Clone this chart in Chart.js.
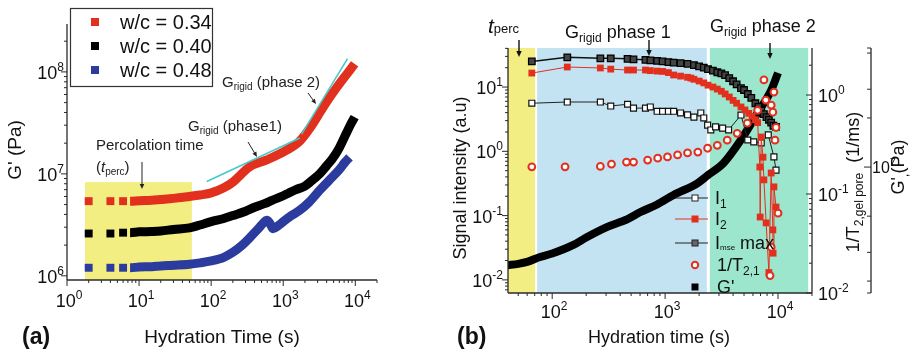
<!DOCTYPE html>
<html>
<head>
<meta charset="utf-8">
<script src="https://cdn.jsdelivr.net/npm/chart.js@4.4.0/dist/chart.umd.min.js"></script>
<style>
  html, body { margin: 0; padding: 0; background: #fff; }
  body { width: 912px; height: 352px; position: relative; overflow: hidden; }
  canvas { position: absolute; top: 0; }
  #chartA { left: 0; }
  #chartB { left: 440px; }
</style>
</head>
<body>
<canvas id="chartA" width="440" height="352"></canvas>
<canvas id="chartB" width="472" height="352"></canvas>
<script>
// ---------- Panel (a): storage modulus vs hydration time ----------
const timeW34 = [2, 4, 6, 7.5, 10, 15, 20, 30, 50, 70, 100, 150, 200, 340, 590, 1100, 1700, 2500, 3300, 4400, 5500, 7000, 8500, 9800];
const gW34    = [5.4e6, 5.4e6, 5.4e6, 5.4e6, 5.45e6, 5.5e6, 5.6e6, 5.75e6, 6.0e6, 6.2e6, 6.5e6, 7.3e6, 8.3e6, 1.17e7, 1.37e7, 1.7e7, 2.1e7, 3.0e7, 4.1e7, 5.6e7, 7.0e7, 8.8e7, 1.05e8, 1.2e8];
const timeW40 = [2, 4, 6, 7.5, 10, 15, 20, 30, 50, 70, 100, 150, 200, 300, 400, 550, 700, 1000, 1200, 1500, 2000, 2500, 3200, 4000, 4800, 6000, 7500, 8500, 9800];
const gW40    = [2.6e6, 2.6e6, 2.65e6, 2.65e6, 2.7e6, 2.72e6, 2.75e6, 2.85e6, 2.95e6, 3.15e6, 3.4e6, 3.65e6, 3.9e6, 4.3e6, 4.7e6, 5.1e6, 5.5e6, 6.1e6, 6.5e6, 7.0e6, 7.6e6, 8.6e6, 1.0e7, 1.2e7, 1.4e7, 1.8e7, 2.5e7, 3.0e7, 3.6e7];
const timeW48 = [2, 4, 6, 7.5, 10, 15, 20, 30, 50, 70, 100, 150, 200, 270, 350, 420, 470, 530, 590, 650, 720, 850, 1000, 1300, 1700, 2300, 3200, 4300, 6000, 7200, 8300];
const gW48    = [1.2e6, 1.2e6, 1.2e6, 1.2e6, 1.22e6, 1.23e6, 1.25e6, 1.27e6, 1.3e6, 1.34e6, 1.4e6, 1.52e6, 1.7e6, 2.0e6, 2.4e6, 2.75e6, 3.0e6, 3.3e6, 3.5e6, 3.3e6, 2.9e6, 3.1e6, 3.4e6, 3.9e6, 4.4e6, 5.3e6, 6.9e6, 8.6e6, 1.1e7, 1.3e7, 1.45e7];
const seriesLabelsA = ['w/c = 0.34', 'w/c = 0.40', 'w/c = 0.48'];
const decadesAX = [0, 1, 2, 3, 4];
const decadesAY = [6, 7, 8];
// percolation window and the two rigid-growth guide lines [t, G']
const percWindow = [1.78, 54, 8.3e6];
const rigidPhase1 = [[87, 8.4e6], [1700, 2.25e7]];
const rigidPhase2 = [[1800, 2.45e7], [7800, 1.35e8]];

// ---------- Panel (b): NMR signals and G' vs hydration time ----------
const timeI1 = [66, 136, 267, 330, 465, 525, 670, 740, 850, 950, 1070, 1190, 1370, 1580, 1800, 2070, 2200, 2380, 2540, 2800, 3230, 3650, 4700, 5400, 6100, 7100, 8200, 9200, 9600];
const sigI1  = [5.6, 5.85, 5.85, 5.07, 5.4, 4.7, 4.7, 4.9, 4.2, 4.2, 4.2, 4.2, 3.95, 3.7, 3.4, 3.95, 3.3, 2.56, 2.15, 2.4, 2.3, 2.15, 3.67, 1.5, 1.4, 1.35, 1.8, 0.82, 0.51];
const timeI2 = [66, 136, 267, 330, 465, 525, 670, 740, 850, 950, 1070, 1190, 1370, 1580, 1690, 1800, 2000, 2200, 2400, 2650, 2900, 3150, 3400, 3700, 4000, 4300, 4700, 5100, 5500, 5900, 6300, 6600, 6900, 6950, 7100, 7360, 7500, 7850, 8300, 8700, 9000, 9050, 9200, 9600];
const sigI2  = [16.5, 20.5, 19.8, 19.0, 18.4, 18.4, 18.4, 18.0, 17.7, 17.5, 16.8, 15.4, 14.8, 14.2, 13.8, 13.2, 12.4, 11.6, 10.7, 10.0, 9.3, 8.6, 7.8, 7.0, 6.2, 5.6, 4.9, 4.4, 3.9, 3.5, 3.1, 2.8, 0.57, 0.095, 1.67, 0.81, 0.36, 0.077, 0.013, 0.46, 0.06, 0.026, 0.28, 0.136];
const timeImse = [66, 136, 267, 330, 465, 525, 670, 740, 850, 950, 1070, 1190, 1370, 1580, 1800, 2000, 2200, 2400, 2650, 2900, 3150, 3400, 3700, 4000, 4300, 4700, 5000, 5400, 5800, 6300, 6700, 7100, 7500, 7900, 8300, 8700, 9100, 9600];
const sigImse  = [25, 29, 28, 28, 27.5, 27, 26.5, 26, 25.5, 25, 24.5, 24, 23.5, 23, 22, 21, 20, 19, 18, 17, 16.3, 15.3, 13.8, 12.3, 11, 9.6, 9.0, 7.8, 6.8, 5.6, 4.9, 4.3, 3.8, 3.4, 3.1, 2.8, 2.5, 2.4];
const timeInvT2 = [66, 130, 267, 335, 455, 525, 700, 860, 1050, 1290, 1580, 1950, 2380, 2900, 3550, 4350, 5350, 6600, 7800, 7500, 9200, 8700, 9000, 9600, 9400, 10000, 8700, 8500];
const invT2     = [0.188, 0.188, 0.19, 0.2, 0.21, 0.21, 0.22, 0.23, 0.237, 0.248, 0.26, 0.265, 0.29, 0.31, 0.35, 0.41, 0.52, 0.70, 0.89, 1.42, 1.07, 0.79, 0.67, 0.47, 0.35, 0.064, 0.029, 0.015];
const timeGb  = [40, 50, 60, 78, 100, 154, 200, 308, 465, 605, 850, 1190, 1945, 2380, 3300, 4700, 6600, 8700, 10000];
const gPrimeB = [2.5e6, 2.55e6, 2.62e6, 2.81e6, 2.95e6, 3.33e6, 3.7e6, 4.3e6, 4.8e6, 5.3e6, 5.9e6, 6.75e6, 7.98e6, 8.9e6, 1.06e7, 1.47e7, 2.15e7, 2.96e7, 3.78e7];
const decadesBX = [2, 3, 4];
const decadesBY = [-2, -1, 0, 1];
const decadesBR1 = [-2, -1, 0];
const decadesBR2 = [7];
const minorBR2 = [2e6, 3e6, 5e6, 2e7, 3e7, 5e7];
// hydration stages: percolation, rigid phase 1, rigid phase 2
const stageBounds = [[40.6, 70.6], [73.5, 2340], [2490, 18500]];
const stageColors = ['#f2ee84', '#c3e3f3', '#9be6cc'];

// ---------- drawing helpers ----------
const FONT = '"Liberation Sans", Arial, Helvetica, sans-serif';
function fnt(size, style) { return (style ? style + ' ' : '') + size + 'px ' + FONT; }

// parts: [text, size, dy, style]
function rich(ctx, parts, x, y, align) {
  ctx.textAlign = 'left';
  ctx.textBaseline = 'alphabetic';
  let w = 0;
  parts.forEach(p => { ctx.font = fnt(p[1], p[3]); w += ctx.measureText(p[0]).width; });
  let cx = align === 'center' ? x - w / 2 : (align === 'right' ? x - w : x);
  parts.forEach(p => {
    ctx.font = fnt(p[1], p[3]);
    ctx.fillText(p[0], cx, y + (p[2] || 0));
    cx += ctx.measureText(p[0]).width;
  });
}
function richRot(ctx, parts, cx, cy) {
  ctx.save();
  ctx.translate(cx, cy);
  ctx.rotate(-Math.PI / 2);
  rich(ctx, parts, 0, 6, 'center');
  ctx.restore();
}
function pow10(e, size) {
  const s = size || 18;
  return [['10', s, 0], [String(e), Math.round(s * 0.67), -Math.round(s * 0.45)]];
}
function arrow(ctx, x1, y1, x2, y2, head) {
  const h = head || 5;
  const a = Math.atan2(y2 - y1, x2 - x1);
  ctx.beginPath();
  ctx.moveTo(x1, y1);
  ctx.lineTo(x2 - Math.cos(a) * h * 0.8, y2 - Math.sin(a) * h * 0.8);
  ctx.stroke();
  ctx.beginPath();
  ctx.moveTo(x2, y2);
  ctx.lineTo(x2 - h * Math.cos(a) + h * 0.45 * Math.sin(a), y2 - h * Math.sin(a) - h * 0.45 * Math.cos(a));
  ctx.lineTo(x2 - h * Math.cos(a) - h * 0.45 * Math.sin(a), y2 - h * Math.sin(a) + h * 0.45 * Math.cos(a));
  ctx.closePath();
  ctx.fill();
}
function logTicks(scale, lo, hi, fn) {
  for (let e = Math.floor(Math.log10(lo)); e <= Math.ceil(Math.log10(hi)); e++) {
    for (let m = 1; m <= 9; m++) {
      const v = m * Math.pow(10, e);
      if (v < lo * 0.999 || v > hi * 1.001) continue;
      fn(scale.getPixelForValue(v), m === 1);
    }
  }
}
function tickLine(ctx, x1, y1, x2, y2) {
  ctx.beginPath(); ctx.moveTo(x1, y1); ctx.lineTo(x2, y2); ctx.stroke();
}
const xy = (ts, vs) => ts.map((t, i) => ({ x: t, y: vs[i] }));

const AXIS = '#2a2a2a';

// ---------- panel (a) ----------
const colW34 = '#e2301f', colW40 = '#000000', colW48 = '#2b3b9e';
const colorsA = [colW34, colW40, colW48];
function thickSeries(label, ts, vs, color, nLead) {
  return {
    label, data: xy(ts, vs), showLine: true,
    borderColor: color, backgroundColor: color, borderWidth: 9,
    borderJoinStyle: 'round', borderCapStyle: 'butt',
    cubicInterpolationMode: 'monotone',
    pointStyle: 'rect', pointBorderWidth: 0,
    pointBackgroundColor: color,
    pointRadius: c => (c.dataIndex < nLead ? 5.6 : 0),
    pointHoverRadius: 0,
    segment: { borderColor: c => (c.p0DataIndex < nLead ? 'rgba(0,0,0,0)' : color) }
  };
}

const decorA = {
  id: 'decorA',
  beforeDatasetsDraw(chart) {
    const { ctx, chartArea: ca, scales: { x, y } } = chart;
    const x0 = x.getPixelForValue(percWindow[0]);
    const x1 = x.getPixelForValue(percWindow[1]);
    const yt = y.getPixelForValue(percWindow[2]);
    ctx.save();
    ctx.fillStyle = '#f2ee82';
    ctx.fillRect(x0, yt, x1 - x0, ca.bottom - yt);
    ctx.restore();
  },
  afterDraw(chart) {
    const { ctx, chartArea: ca, scales: { x, y } } = chart;
    ctx.save();
    // guide lines for rigid growth
    ctx.strokeStyle = '#48c8c8';
    ctx.lineWidth = 1.6;
    [rigidPhase1, rigidPhase2].forEach(seg => {
      tickLine(ctx, x.getPixelForValue(seg[0][0]), y.getPixelForValue(seg[0][1]),
        x.getPixelForValue(seg[1][0]), y.getPixelForValue(seg[1][1]));
    });
    // axes
    ctx.strokeStyle = AXIS; ctx.fillStyle = '#111';
    ctx.lineWidth = 1.3;
    tickLine(ctx, ca.left, ca.top, ca.left, ca.bottom);
    tickLine(ctx, ca.left, ca.bottom, ca.right, ca.bottom);
    ctx.lineWidth = 1;
    logTicks(x, x.min, x.max, (px, major) => tickLine(ctx, px, ca.bottom, px, ca.bottom + (major ? 6 : 3)));
    logTicks(y, y.min, y.max, (py, major) => tickLine(ctx, ca.left - (major ? 6 : 3), py, ca.left, py));
    decadesAX.forEach(e => rich(ctx, pow10(e), x.getPixelForValue(Math.pow(10, e)) + 2, ca.bottom + 27, 'center'));
    decadesAY.forEach(e => rich(ctx, pow10(e), ca.left - 3, y.getPixelForValue(Math.pow(10, e)) + 7, 'right'));
    // titles
    rich(ctx, [['Hydration Time (s)', 19]], 222, 343, 'center');
    richRot(ctx, [["G' (Pa)", 19]], 15, 150);
    rich(ctx, [['(a)', 23, 0, 'bold']], 22, 344, 'left');
    // legend
    ctx.fillStyle = '#fff';
    ctx.fillRect(70, 8, 142, 78);
    ctx.strokeStyle = '#333'; ctx.lineWidth = 1.2;
    ctx.strokeRect(70.5, 8.5, 142, 78);
    const rows = [22, 46, 70];
    seriesLabelsA.forEach((lab, i) => {
      ctx.fillStyle = colorsA[i];
      ctx.fillRect(91, rows[i] - 4, 8, 8);
      ctx.fillStyle = '#111';
      rich(ctx, [[lab, 20]], 120, rows[i] + 7, 'left');
    });
    // annotations
    ctx.fillStyle = '#222'; ctx.strokeStyle = '#222'; ctx.lineWidth = 1;
    rich(ctx, [['G', 15], ['rigid', 10, 3], [' (phase 2)', 15]], 222, 87, 'left');
    arrow(ctx, 308, 93, 316, 104, 5);
    rich(ctx, [['G', 15], ['rigid', 10, 3], [' (phase1)', 15]], 188, 131, 'left');
    arrow(ctx, 248, 142, 257, 157, 5);
    rich(ctx, [['Percolation time', 15]], 96, 150, 'left');
    rich(ctx, [['(', 15], ['t', 15, 0, 'italic'], ['perc', 10, 3], [')', 15]], 96, 172, 'left');
    arrow(ctx, 142, 162, 142, 189, 5);
    ctx.restore();
  }
};

new Chart(document.getElementById('chartA'), {
  type: 'scatter',
  data: {
    datasets: [
      thickSeries(seriesLabelsA[2], timeW48, gW48, colW48, 3),
      thickSeries(seriesLabelsA[1], timeW40, gW40, colW40, 3),
      thickSeries(seriesLabelsA[0], timeW34, gW34, colW34, 3)
    ]
  },
  options: {
    responsive: false, animation: false, events: [],
    layout: { padding: { left: 67, top: 24, right: 63, bottom: 72 } },
    plugins: { legend: { display: false }, tooltip: { enabled: false } },
    scales: {
      x: { type: 'logarithmic', min: 1, max: 2e4, display: false },
      y: { type: 'logarithmic', min: 9.1e5, max: 2.95e8, display: false }
    }
  },
  plugins: [decorA]
});

// ---------- panel (b) ----------
const RED = '#e2301f';
const decorB = {
  id: 'decorB',
  beforeDatasetsDraw(chart) {
    const { ctx, chartArea: ca, scales: { x } } = chart;
    ctx.save();
    stageBounds.forEach((b, i) => {
      const x0 = Math.max(ca.left, x.getPixelForValue(b[0]));
      const x1 = Math.min(ca.right, x.getPixelForValue(b[1]));
      ctx.fillStyle = stageColors[i];
      ctx.fillRect(x0, ca.top, x1 - x0, ca.bottom - ca.top);
    });
    ctx.restore();
  },
  afterDraw(chart) {
    const { ctx, chartArea: ca, scales: { x, y, y1, y2 } } = chart;
    ctx.save();
    ctx.strokeStyle = AXIS; ctx.fillStyle = '#111';
    ctx.lineWidth = 1.3;
    const r2x = ca.right + 59;
    tickLine(ctx, ca.left, ca.top, ca.left, ca.bottom);
    tickLine(ctx, ca.left, ca.bottom, ca.right, ca.bottom);
    tickLine(ctx, ca.right, ca.top, ca.right, ca.bottom);
    tickLine(ctx, r2x, ca.top, r2x, ca.bottom);
    ctx.lineWidth = 1;
    logTicks(x, x.min, x.max, (px, major) => tickLine(ctx, px, ca.bottom, px, ca.bottom + (major ? 6 : 3)));
    logTicks(y, y.min, y.max, (py, major) => tickLine(ctx, ca.left - (major ? 6 : 3), py, ca.left, py));
    logTicks(y1, y1.min, y1.max, (py, major) => tickLine(ctx, ca.right - (major ? 6 : 3), py, ca.right, py));
    decadesBR2.forEach(e => tickLine(ctx, r2x - 7, y2.getPixelForValue(Math.pow(10, e)), r2x, y2.getPixelForValue(Math.pow(10, e))));
    minorBR2.forEach(v => tickLine(ctx, r2x - 4, y2.getPixelForValue(v), r2x, y2.getPixelForValue(v)));
    tickLine(ctx, r2x - 4, ca.top, r2x, ca.top);
    tickLine(ctx, r2x - 4, ca.bottom, r2x, ca.bottom);
    decadesBX.forEach(e => rich(ctx, pow10(e), x.getPixelForValue(Math.pow(10, e)) + 2, ca.bottom + 25, 'center'));
    decadesBY.forEach(e => rich(ctx, pow10(e), ca.left - 5, y.getPixelForValue(Math.pow(10, e)) + 7, 'right'));
    decadesBR1.forEach(e => rich(ctx, pow10(e), ca.right + 6, y1.getPixelForValue(Math.pow(10, e)) + 7, 'left'));
    decadesBR2.forEach(e => rich(ctx, pow10(e, 16), r2x + 1, y2.getPixelForValue(Math.pow(10, e)) + 6, 'left'));
    // titles
    rich(ctx, [['Hydration time (s)', 18]], 219, 343, 'center');
    richRot(ctx, [['Signal intensity (a.u)', 18]], 20, 178);
    richRot(ctx, [['1/T', 18], ['2,gel pore', 12, 4], ['  (1/ms)', 18]], 413, 182);
    richRot(ctx, [["G'", 18], [',', 12, 4], ['(Pa)', 18]], 458, 167);
    rich(ctx, [['(b)', 23, 0, 'bold']], 17, 344, 'left');
    // stage annotations
    ctx.fillStyle = '#111'; ctx.strokeStyle = '#111'; ctx.lineWidth = 1.4;
    rich(ctx, [['t', 21, 0, 'italic'], ['perc', 13, 0]], 48, 33, 'left');
    arrow(ctx, 79, 40, 79, 57, 6);
    rich(ctx, [['G', 18], ['rigid', 12, 4], [' phase 1', 18]], 125, 38, 'left');
    arrow(ctx, 209, 40, 209, 56, 6);
    rich(ctx, [['G', 18], ['rigid', 12, 4], [' phase 2', 18]], 270, 32, 'left');
    arrow(ctx, 330, 43, 330, 59, 6);
    // legend
    const lx = 255, tx = 275;
    const rows = [198, 219, 243, 265, 287];
    ctx.lineWidth = 1;
    ctx.strokeStyle = '#222';
    tickLine(ctx, 235, rows[0], 268, rows[0]);
    ctx.fillStyle = '#fff'; ctx.fillRect(lx - 3, rows[0] - 3, 6, 6); ctx.strokeRect(lx - 3, rows[0] - 3, 6, 6);
    ctx.strokeStyle = RED;
    tickLine(ctx, 235, rows[1], 268, rows[1]);
    ctx.fillStyle = RED; ctx.fillRect(lx - 3.5, rows[1] - 3.5, 7, 7);
    ctx.strokeStyle = '#222';
    tickLine(ctx, 235, rows[2], 268, rows[2]);
    ctx.fillStyle = '#666'; ctx.fillRect(lx - 3, rows[2] - 3, 6, 6); ctx.strokeRect(lx - 3, rows[2] - 3, 6, 6);
    ctx.strokeStyle = RED; ctx.lineWidth = 2; ctx.fillStyle = '#fff';
    ctx.beginPath(); ctx.arc(lx, rows[3], 3.2, 0, Math.PI * 2); ctx.fill(); ctx.stroke();
    ctx.fillStyle = '#000'; ctx.fillRect(lx - 3.5, rows[4] - 3.5, 7, 7);
    ctx.fillStyle = '#111';
    rich(ctx, [['I', 18], ['1', 12, 4]], tx, rows[0] + 6, 'left');
    rich(ctx, [['I', 18], ['2', 12, 4]], tx, rows[1] + 6, 'left');
    rich(ctx, [['I', 18], ['mse', 8, 1], [' max', 18]], tx, rows[2] + 6, 'left');
    rich(ctx, [['1/T', 18], ['2,1', 12, 4]], tx + 2, rows[3] + 6, 'left');
    rich(ctx, [["G'", 18]], tx + 2, rows[4] + 6, 'left');
    ctx.restore();
  }
};

new Chart(document.getElementById('chartB'), {
  type: 'scatter',
  data: {
    datasets: [
      {
        label: '1/T2,1', yAxisID: 'y1', order: 1, data: xy(timeInvT2, invT2), showLine: false,
        pointStyle: 'circle', pointRadius: 3.4, pointBorderWidth: 2,
        pointBorderColor: RED, pointBackgroundColor: '#fff', pointHoverRadius: 0
      },
      {
        label: 'Imse max', yAxisID: 'y', order: 2, data: xy(timeImse, sigImse), showLine: true,
        borderColor: '#111', borderWidth: 1.5,
        pointStyle: 'rect', pointRadius: 4.6, pointBorderWidth: 1.3,
        pointBorderColor: '#000', pointBackgroundColor: '#444', pointHoverRadius: 0
      },
      {
        label: 'I2', yAxisID: 'y', order: 3, data: xy(timeI2, sigI2), showLine: true,
        borderColor: RED, borderWidth: 1,
        pointStyle: 'rect', pointRadius: 4.8, pointBorderWidth: 0,
        pointBackgroundColor: RED, pointHoverRadius: 0
      },
      {
        label: 'I1', yAxisID: 'y', order: 4, data: xy(timeI1, sigI1), showLine: true,
        borderColor: '#222', borderWidth: 1,
        pointStyle: 'rect', pointRadius: 4.2, pointBorderWidth: 1.2,
        pointBorderColor: '#111', pointBackgroundColor: '#fff', pointHoverRadius: 0
      },
      {
        label: "G'", yAxisID: 'y2', order: 5, data: xy(timeGb, gPrimeB), showLine: true,
        borderColor: '#000', borderWidth: 8, borderJoinStyle: 'round',
        cubicInterpolationMode: 'monotone',
        pointRadius: 0, pointHoverRadius: 0
      }
    ]
  },
  options: {
    responsive: false, animation: false, events: [],
    layout: { padding: { left: 68, top: 48, right: 100, bottom: 59 } },
    plugins: { legend: { display: false }, tooltip: { enabled: false } },
    scales: {
      x: { type: 'logarithmic', min: 40.6, max: 2.0e4, display: false },
      y: { type: 'logarithmic', min: 0.00625, max: 40.5, display: false },
      y1: { type: 'logarithmic', min: 0.01, max: 2.985, display: false },
      y2: { type: 'logarithmic', min: 1.69e6, max: 5.37e7, display: false }
    }
  },
  plugins: [decorB]
});
</script>
</body>
</html>
